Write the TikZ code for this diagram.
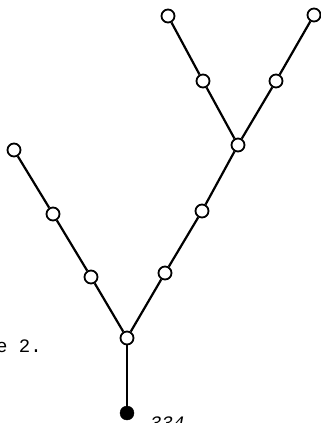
\documentclass[tikz,border=0pt]{standalone}
\usepackage{fontspec}
\newfontfamily\tw{Liberation Mono}
\begin{document}
\begin{tikzpicture}[x=1pt,y=-1pt,
  vtx/.style={circle,draw,line width=1.8pt,fill=white,minimum size=13pt,inner sep=0pt},
  root/.style={circle,draw,fill=black,minimum size=14pt,inner sep=0pt},
  edge/.style={line width=2.2pt},
  txt/.style={font=\tw\fontsize{19}{19}\selectfont,inner sep=0pt}]
\useasboundingbox (0,0) rectangle (321,423);
\clip (0,0) rectangle (321,423);
\node[root] (r) at (127,413) {};
\node[vtx] (j) at (127,338) {};
\node[vtx] (l1) at (91,277) {};
\node[vtx] (l2) at (53,214) {};
\node[vtx] (l3) at (14,150) {};
\node[vtx] (m1) at (165,273) {};
\node[vtx] (m2) at (202,211) {};
\node[vtx] (k) at (238,145) {};
\node[vtx] (a1) at (203,81) {};
\node[vtx] (a2) at (168,16) {};
\node[vtx] (b1) at (276,81) {};
\node[vtx] (b2) at (314,15) {};
\draw[edge] (r) -- (j);
\draw[edge] (j) -- (l1) -- (l2) -- (l3);
\draw[edge] (j) -- (m1) -- (m2) -- (k);
\draw[edge] (k) -- (a1) -- (a2);
\draw[edge] (k) -- (b1) -- (b2);
\node[txt,anchor=base east] (cap) at (42,352) {e 2.};
\node[txt,anchor=north west] (num) at (150,417) {\itshape 334};
\end{tikzpicture}
\end{document}
